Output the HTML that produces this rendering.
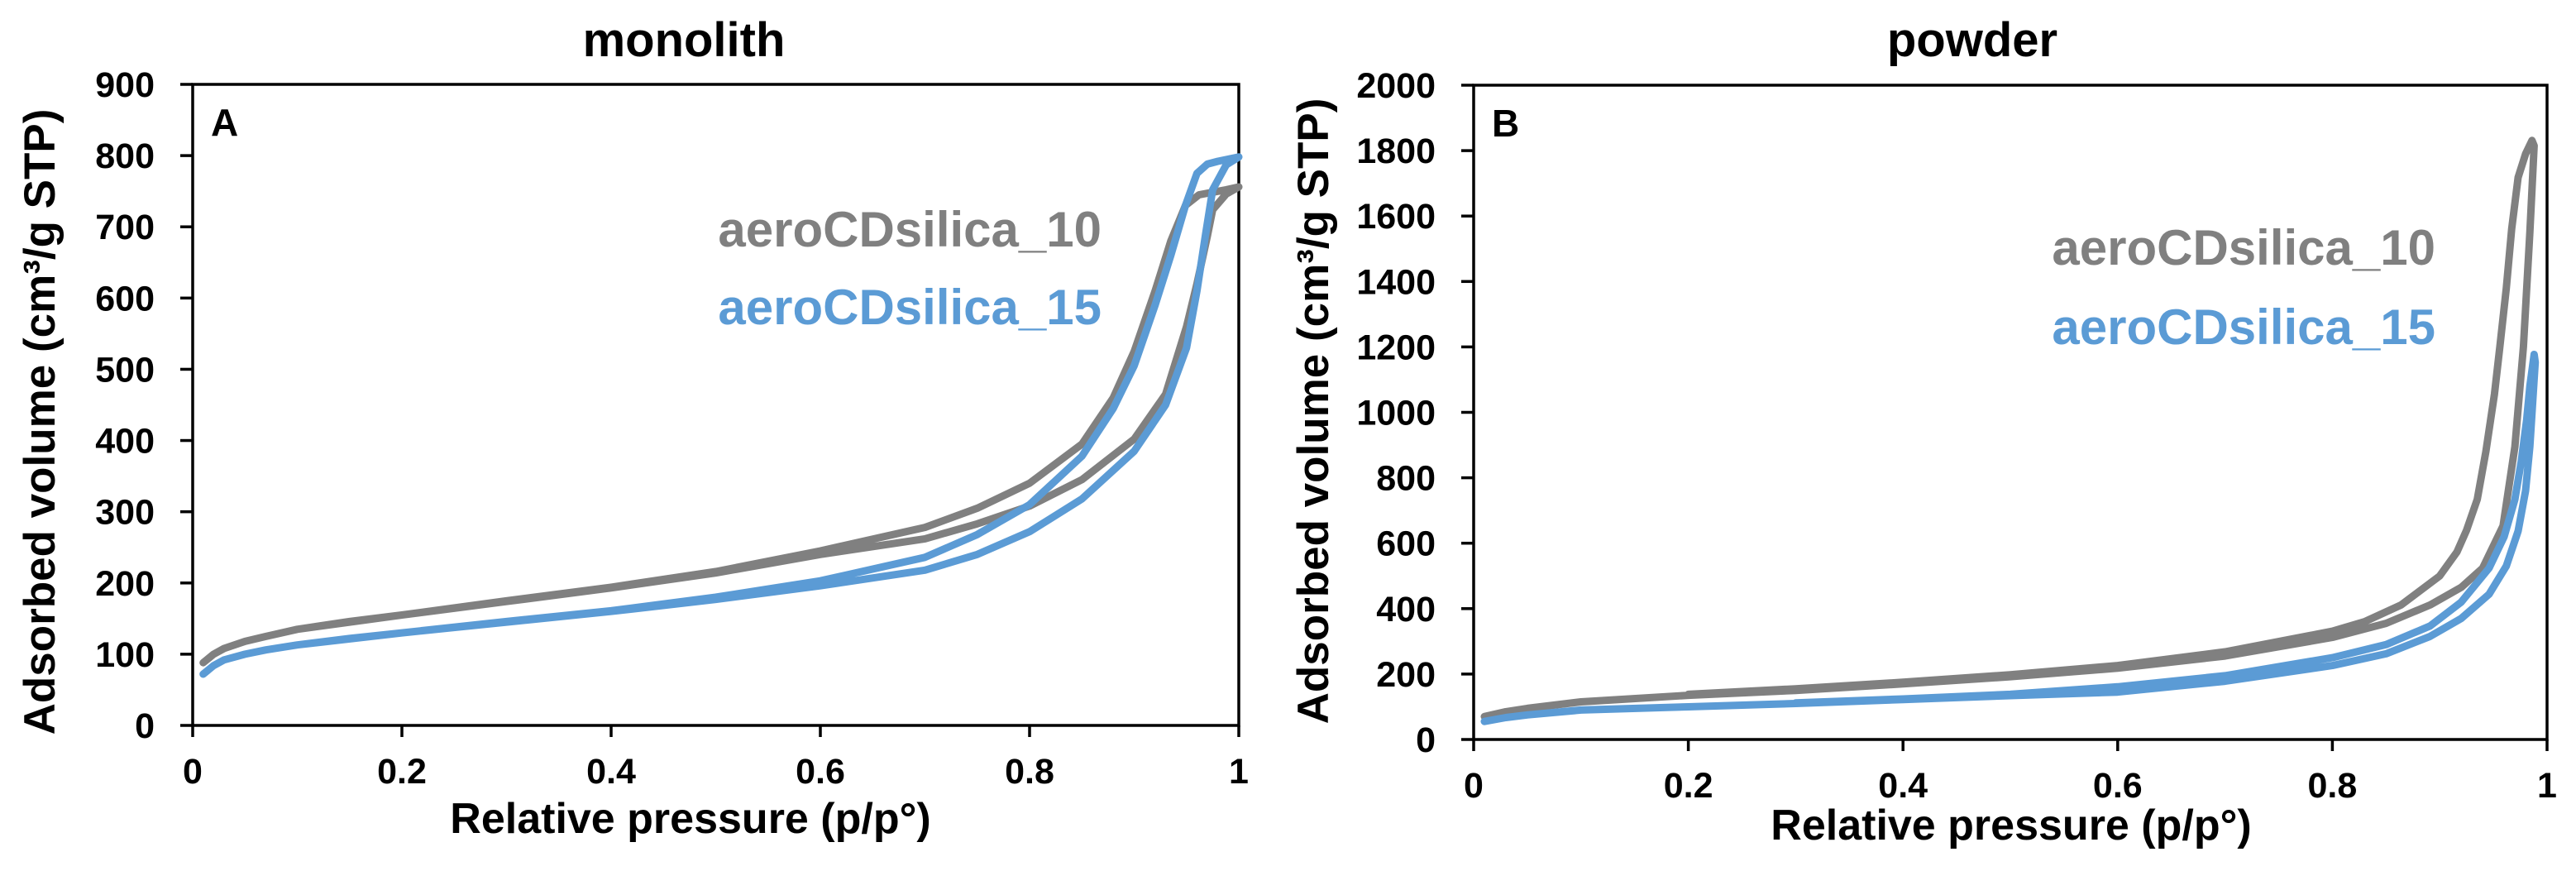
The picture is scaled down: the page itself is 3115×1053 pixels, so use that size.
<!DOCTYPE html>
<html><head><meta charset="utf-8"><style>
html,body{margin:0;padding:0;background:#fff;}
svg{display:block;font-family:"Liberation Sans",Arial,sans-serif;font-weight:bold;}
</style></head><body>
<svg id="fig" width="3115" height="1053" viewBox="0 0 3115 1053" xmlns="http://www.w3.org/2000/svg">
<rect width="3115" height="1053" fill="#fff"/>
</svg>
<script>
// ---- Panel A (monolith) data ----
const xTicksA = [0, 0.2, 0.4, 0.6, 0.8, 1];
const xTickLabelsA = ["0", "0.2", "0.4", "0.6", "0.8", "1"];
const yTicksA = [0, 100, 200, 300, 400, 500, 600, 700, 800, 900];
const yTickLabelsA = ["0","100","200","300","400","500","600","700","800","900"];
const a10AdsP = [0.01, 0.02, 0.03, 0.05, 0.07, 0.1, 0.15, 0.2, 0.3, 0.4, 0.5, 0.6, 0.7, 0.75, 0.8, 0.85, 0.9, 0.93, 0.95, 0.96, 0.97, 0.975, 0.988, 1.0];
const a10AdsV = [88, 100, 108, 118, 125, 135, 146, 155, 174, 193, 214, 240, 262, 283, 308, 345, 402, 465, 560, 620, 687, 724, 746, 756];
const a10DesP = [1.0, 0.988, 0.962, 0.949, 0.935, 0.92, 0.9, 0.88, 0.85, 0.8, 0.75, 0.7, 0.6, 0.5, 0.4, 0.3, 0.2, 0.1];
const a10DesV = [756, 752, 745, 730, 680, 610, 525, 460, 395, 340, 305, 278, 245, 216, 194, 175, 155, 135];
const a15AdsP = [0.01, 0.02, 0.03, 0.05, 0.07, 0.1, 0.15, 0.2, 0.3, 0.4, 0.5, 0.6, 0.7, 0.75, 0.8, 0.85, 0.9, 0.93, 0.95, 0.96, 0.968, 0.975, 0.988, 1.0];
const a15AdsV = [72, 84, 92, 100, 106, 113, 122, 130, 145, 160, 177, 196, 218, 240, 272, 318, 385, 450, 530, 610, 687, 752, 787, 798];
const a15DesP = [1.0, 0.98, 0.970, 0.960, 0.949, 0.935, 0.92, 0.9, 0.88, 0.85, 0.8, 0.75, 0.7, 0.6, 0.5, 0.4, 0.3, 0.2, 0.1];
const a15DesV = [798, 792, 788, 775, 730, 660, 590, 505, 445, 378, 310, 268, 236, 203, 180, 161, 146, 130, 113];

// ---- Panel B (powder) data ----
const xTicksB = [0, 0.2, 0.4, 0.6, 0.8, 1];
const xTickLabelsB = ["0", "0.2", "0.4", "0.6", "0.8", "1"];
const yTicksB = [0,200,400,600,800,1000,1200,1400,1600,1800,2000];
const yTickLabelsB = ["0","200","400","600","800","1000","1200","1400","1600","1800","2000"];
const b10AdsP = [0.01, 0.03, 0.05, 0.1, 0.2, 0.3, 0.4, 0.5, 0.6, 0.7, 0.8, 0.85, 0.891, 0.92, 0.940, 0.959, 0.970, 0.978, 0.984, 0.988];
const b10AdsV = [70, 85, 95, 115, 135, 150, 170, 192, 218, 255, 312, 355, 411, 465, 524, 653, 895, 1200, 1550, 1815];
const b10DesP = [0.988, 0.986, 0.98, 0.973, 0.967, 0.962, 0.956, 0.951, 0.943, 0.935, 0.925, 0.916, 0.9, 0.864, 0.83, 0.8, 0.7, 0.6, 0.5, 0.4, 0.3, 0.2];
const b10DesV = [1815, 1831, 1790, 1718, 1560, 1379, 1200, 1056, 880, 734, 640, 573, 500, 411, 360, 331, 268, 226, 198, 175, 155, 138];
const b15AdsP = [0.01, 0.03, 0.05, 0.1, 0.2, 0.3, 0.4, 0.5, 0.6, 0.7, 0.8, 0.85, 0.891, 0.92, 0.946, 0.962, 0.973, 0.98, 0.984, 0.989];
const b15AdsV = [55, 67, 75, 90, 100, 110, 122, 134, 145, 178, 226, 262, 315, 370, 444, 530, 637, 760, 895, 1153];
const b15DesP = [0.989, 0.988, 0.984, 0.981, 0.976, 0.970, 0.96, 0.946, 0.92, 0.891, 0.85, 0.8, 0.7, 0.6, 0.5, 0.4, 0.3];
const b15DesV = [1153, 1177, 1080, 976, 850, 734, 620, 524, 420, 347, 290, 250, 195, 161, 138, 124, 112];

const NS = "http://www.w3.org/2000/svg";
const svg = document.getElementById("fig");
function mk(tag, attrs, parent) {
  const e = document.createElementNS(NS, tag);
  for (const k in attrs) e.setAttribute(k, attrs[k]);
  (parent || svg).appendChild(e);
  return e;
}

function panel(cfg) {
  const g = mk("g", {});
  
  
  const sx = p => cfg.x0 + (cfg.x1 - cfg.x0) * (p - cfg.xmin) / (cfg.xmax - cfg.xmin);
  const sy = v => cfg.y0 - (cfg.y0 - cfg.y1) * (v - cfg.ymin) / (cfg.ymax - cfg.ymin);
  const fr = mk("rect", {x: cfg.x0, y: cfg.y1, width: cfg.x1 - cfg.x0, height: cfg.y0 - cfg.y1, fill: "none", stroke: "#000", "stroke-width": 3.5}, g);
  
  
  cfg.yTicks.forEach((v, i) => {
    const t = mk("line", {x1: cfg.x0 - 15, x2: cfg.x0, y1: sy(v), y2: sy(v), stroke: "#000", "stroke-width": 3.5}, g);
    
    
    const l = mk("text", {x: cfg.x0 - 46, y: sy(v) + 15, "text-anchor": "end", "font-size": 43, fill: "#000"}, g);
    
    
    l.textContent = cfg.yLabels[i];
  });
  cfg.xTicks.forEach((p, i) => {
    const t = mk("line", {x1: sx(p), x2: sx(p), y1: cfg.y0, y2: cfg.y0 + 14, stroke: "#000", "stroke-width": 3.5}, g);
    
    
    const l = mk("text", {x: sx(p), y: cfg.y0 + 70, "text-anchor": "middle", "font-size": 43, fill: "#000"}, g);
    
    
    l.textContent = cfg.xLabels[i];
  });
  cfg.series.forEach(s => {
    const pts = [];
    s.adsP.forEach((p, i) => pts.push(sx(p).toFixed(1) + "," + sy(s.adsV[i]).toFixed(1)));
    s.desP.forEach((p, i) => pts.push(sx(p).toFixed(1) + "," + sy(s.desV[i]).toFixed(1)));
    const pl = mk("polyline", {points: pts.join(" "), fill: "none", stroke: s.color, "stroke-width": 9, "stroke-linejoin": "round", "stroke-linecap": "round"}, g);
    
    
  });
  const tt = mk("text", {x: cfg.titleX, y: 68, "text-anchor": "middle", "font-size": 58, fill: "#000"}, g);
  
  
  tt.textContent = cfg.title;
  const pl = mk("text", {x: cfg.x0 + 22, y: cfg.y1 + 62, "font-size": 46, fill: "#000"}, g);
  
  
  pl.textContent = cfg.letter;
  const xt = mk("text", {x: cfg.xTitleX, y: cfg.xTitleY, "text-anchor": "middle", "font-size": 52, fill: "#000"}, g);
  
  
  xt.textContent = "Relative pressure (p/p°)";
  const yt = mk("text", {x: 0, y: 0, "text-anchor": "middle", "font-size": 53, fill: "#000", transform: "translate(" + cfg.yTitleX + "," + cfg.yTitleY + ") rotate(-90)"}, g);
  
  
  yt.textContent = "Adsorbed volume (cm³/g STP)";
  cfg.legend.forEach(L => {
    const t = mk("text", {x: cfg.legX, y: L.y, "text-anchor": "end", "font-size": 60, fill: L.color}, g);
    
    
    t.textContent = L.text;
  });
}

panel({
  name: "panel-a-monolith", x0: 233, x1: 1498, y0: 877, y1: 102,
  xmin: 0, xmax: 1, ymin: 0, ymax: 900,
  xTicks: xTicksA, xLabels: xTickLabelsA, yTicks: yTicksA, yLabels: yTickLabelsA,
  title: "monolith", titleX: 827, letter: "A",
  xTitleX: 835, xTitleY: 1007, yTitleX: 66, yTitleY: 510,
  legX: 1332,
  legend: [
    {name: "legend-aerocdsilica-10", text: "aeroCDsilica_10", color: "#808080", y: 298},
    {name: "legend-aerocdsilica-15", text: "aeroCDsilica_15", color: "#5b9bd5", y: 392}
  ],
  series: [
    {name: "line-aerocdsilica-10", color: "#808080", adsP: a10AdsP, adsV: a10AdsV, desP: a10DesP, desV: a10DesV},
    {name: "line-aerocdsilica-15", color: "#5b9bd5", adsP: a15AdsP, adsV: a15AdsV, desP: a15DesP, desV: a15DesV}
  ]
});

panel({
  name: "panel-b-powder", x0: 1782, x1: 3080, y0: 894, y1: 103,
  xmin: 0, xmax: 1, ymin: 0, ymax: 2000,
  xTicks: xTicksB, xLabels: xTickLabelsB, yTicks: yTicksB, yLabels: yTickLabelsB,
  title: "powder", titleX: 2385, letter: "B",
  xTitleX: 2432, xTitleY: 1015, yTitleX: 1606, yTitleY: 497,
  legX: 2945,
  legend: [
    {name: "legend-aerocdsilica-10", text: "aeroCDsilica_10", color: "#808080", y: 320},
    {name: "legend-aerocdsilica-15", text: "aeroCDsilica_15", color: "#5b9bd5", y: 416}
  ],
  series: [
    {name: "line-aerocdsilica-10", color: "#808080", adsP: b10AdsP, adsV: b10AdsV, desP: b10DesP, desV: b10DesV},
    {name: "line-aerocdsilica-15", color: "#5b9bd5", adsP: b15AdsP, adsV: b15AdsV, desP: b15DesP, desV: b15DesV}
  ]
});
</script>
</body></html>
